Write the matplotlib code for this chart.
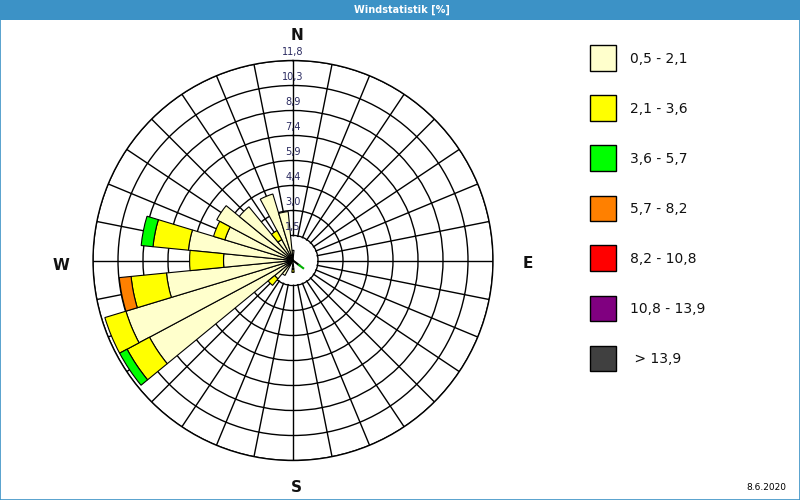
import numpy as np
import matplotlib
matplotlib.use("Agg")
import matplotlib.pyplot as plt
from matplotlib.patches import Rectangle

# ---------------- data ----------------
title = "Windstatistik [%]"
date_text = "8.6.2020"

directions_deg = [0.0, 180.0, 213.75, 225.0, 236.25, 247.5, 258.75, 270.0, 281.25,
                  292.5, 303.75, 315.0, 326.25, 337.5, 348.75]

speed_classes = ["0,5 - 2,1", "2,1 - 3,6", "3,6 - 5,7", "5,7 - 8,2",
                 "8,2 - 10,8", "10,8 - 13,9", " > 13,9"]
class_colors = ["#FFFFCC", "#FFFF00", "#00FF00", "#FF8000",
                "#FF0000", "#800080", "#404040"]

freq_05_21 = [0.6, 0.5, 1.0, 1.4, 9.6, 10.3, 7.5, 4.1, 6.2, 4.2, 5.1, 4.1, 1.4, 4.1, 2.9]
freq_21_36 = [0.0, 0.2, 0.0, 0.5, 1.5, 1.3, 2.1, 2.0, 2.1, 0.7, 0.0, 0.0, 0.6, 0.0, 0.0]
freq_36_57 = [0.0, 0.0, 0.0, 0.0, 0.5, 0.0, 0.0, 0.0, 0.7, 0.0, 0.0, 0.0, 0.0, 0.0, 0.0]
freq_57_82 = [0.0, 0.0, 0.0, 0.0, 0.0, 0.0, 0.7, 0.0, 0.0, 0.0, 0.0, 0.0, 0.0, 0.0, 0.0]
freq_82_108 = [0.0] * 15
freq_108_139 = [0.0] * 15
freq_139 = [0.0] * 15

ring_values = [1.475, 2.95, 4.425, 5.9, 7.375, 8.85, 10.325, 11.8]
ring_labels = ["1,5", "3,0", "4,4", "5,9", "7,4", "8,9", "10,3", "11,8"]

needle_dir_deg = 127.0
needle_black = 0.45
needle_green = 0.30

# ---------------- figure ----------------
W, H = 800, 500
fig = plt.figure(figsize=(8, 5), dpi=100)
fig.patch.set_facecolor("white")


def fx(x):
    return x / W


def fy(y):
    return 1 - y / H


bar_col = "#3C92C6"
fig.patches.append(Rectangle((0, fy(20)), 1, 20 / H, transform=fig.transFigure,
                             facecolor=bar_col, edgecolor="none", zorder=0))
fig.patches.append(Rectangle((0.0006, 0.001), 0.9988, 0.998, transform=fig.transFigure,
                             fill=False, edgecolor=bar_col, lw=1.2, zorder=0))
fig.text(fx(402), fy(10), title, color="white", fontsize=7, fontweight="bold",
         ha="center", va="center")

cx, cy, R = 293, 260.5, 200
ax = fig.add_axes([fx(cx - R), fy(cy + R), 2 * R / W, 2 * R / H], projection="polar")
ax.set_theta_zero_location("N")
ax.set_theta_direction(-1)
ax.set_ylim(0, ring_values[-1])
ax.set_yticks(ring_values)
ax.set_xticks(np.deg2rad(np.arange(0, 360, 11.25)))
ax.set_xticklabels([])
ax.set_yticklabels([])
ax.tick_params(length=0)
ax.set_axisbelow(True)
ax.grid(True, color="black", lw=1)
ax.spines["polar"].set_color("black")
ax.spines["polar"].set_linewidth(1)

# white hub
ax.bar(0, ring_values[0] * 0.96, width=2 * np.pi, bottom=0, color="white",
       edgecolor="none", zorder=1)

theta = np.deg2rad(directions_deg)
bottom = np.zeros(len(directions_deg))
classes = [freq_05_21, freq_21_36, freq_36_57, freq_57_82,
           freq_82_108, freq_108_139, freq_139]
for vals, col in zip(classes, class_colors):
    vals = np.asarray(vals, dtype=float)
    m = vals > 0
    if m.any():
        ax.bar(theta[m], vals[m], width=np.deg2rad(11.25), bottom=bottom[m],
               color=col, edgecolor="black", lw=0.8, zorder=3)
    bottom += vals

nt = np.deg2rad(needle_dir_deg)
ax.plot([nt, nt], [0, needle_black], color="black", lw=1.5, zorder=4)
ax.plot([nt, nt], [needle_black, needle_black + needle_green], color="#00B000",
        lw=1.5, zorder=4)

for v, lab in zip(ring_values, ring_labels):
    ax.annotate(lab, xy=(0, v), xytext=(0, 8.5), textcoords="offset pixels",
                ha="center", va="center", fontsize=7, color="#2A2A60", zorder=5)

# compass letters
for lab, (x, y) in zip(["N", "E", "S", "W"],
                       [(297, 36), (528, 264), (296, 488), (61, 265)]):
    fig.text(fx(x), fy(y), lab, fontsize=11, fontweight="bold", ha="center",
             va="center", color="#111111")

# legend
for i, (lab, col) in enumerate(zip(speed_classes, class_colors)):
    yc = 58 + 50 * i
    fig.patches.append(Rectangle((fx(590), fy(yc + 12.5)), 26 / W, 25 / H,
                                 transform=fig.transFigure, facecolor=col,
                                 edgecolor="black", lw=1))
    fig.text(fx(630), fy(yc + 1), lab, fontsize=10, ha="left", va="center",
             color="#111111")

fig.text(fx(786), fy(488), date_text, fontsize=6.5, ha="right", va="center")

fig.savefig("out.png", dpi=100)
